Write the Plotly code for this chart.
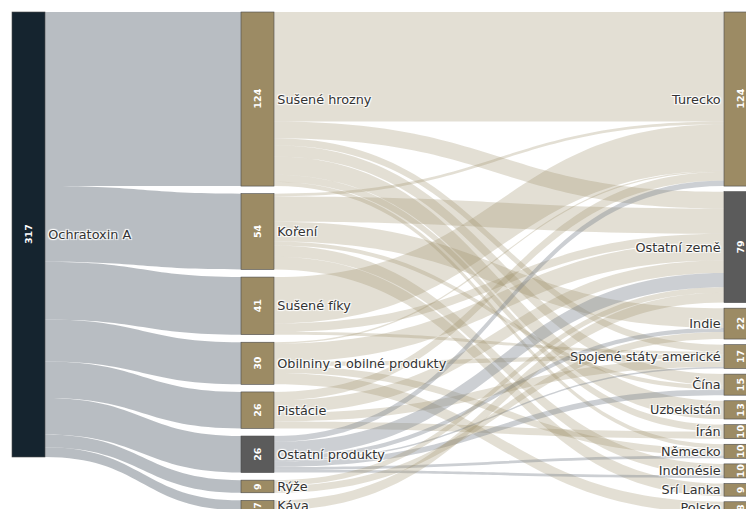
import plotly.graph_objects as go

# ---------------- data ----------------
source_label = "Ochratoxin A"
products = ["Sušené hrozny", "Koření", "Sušené fíky", "Obilniny a obilné produkty",
            "Pistácie", "Ostatní produkty", "Rýže", "Káva"]
countries = ["Turecko", "Ostatní země", "Indie", "Spojené státy americké", "Čína",
             "Uzbekistán", "Írán", "Německo", "Indonésie", "Srí Lanka", "Polsko"]

# flows product -> country (rows: products, cols: countries)
flows = [
    # Tur Ost Ind USA Čín Uzb Írá Něm Ido SLa Pol
    [78, 12, 0, 5, 8, 13, 5, 3, 0, 0, 0],   # Sušené hrozny 124
    [2, 18, 14, 0, 3, 0, 0, 0, 8, 9, 0],    # Koření 54
    [33, 6, 0, 2, 0, 0, 0, 0, 0, 0, 0],     # Sušené fíky 41
    [1, 13, 0, 3, 0, 0, 0, 5, 0, 0, 8],     # Obilniny 30
    [6, 9, 0, 6, 0, 0, 5, 0, 0, 0, 0],      # Pistácie 26
    [4, 10, 3, 1, 4, 0, 0, 2, 2, 0, 0],     # Ostatní produkty 26
    [0, 4, 5, 0, 0, 0, 0, 0, 0, 0, 0],      # Rýže 9
    [0, 7, 0, 0, 0, 0, 0, 0, 0, 0, 0],      # Káva 7
]
grey_products = ["Ostatní produkty"]
grey_countries = ["Ostatní země"]

# ---------------- derived ----------------
prod_tot = [sum(r) for r in flows]
ctry_tot = [sum(flows[i][j] for i in range(len(products))) for j in range(len(countries))]
total = sum(prod_tot)

labels = [source_label] + products + countries
n_p = len(products)

KHAKI = "#9c8b64"
GREY = "#5b5b5b"
NAVY = "#15242f"
node_colors = [NAVY] + [GREY if p in grey_products else KHAKI for p in products] + \
              [GREY if c in grey_countries else KHAKI for c in countries]

src, tgt, val, lcol = [], [], [], []
for i, p in enumerate(products):
    src.append(0); tgt.append(1 + i); val.append(prod_tot[i]); lcol.append("rgba(160,167,174,0.75)")
for i, p in enumerate(products):
    for j, c in enumerate(countries):
        v = flows[i][j]
        if v > 0:
            src.append(1 + i); tgt.append(1 + n_p + j); val.append(v)
            lcol.append("rgba(120,128,140,0.38)" if p in grey_products else "rgba(156,139,100,0.28)")

# ---------------- layout geometry ----------------
W_FIG, H_FIG = 760, 530
M_L, M_R, M_T, M_B = 12, 3, 12, 3
W = W_FIG - M_L - M_R
H = H_FIG - M_T - M_B
PAD = 7
THICK = 33
ky = (H - (len(countries) - 1) * PAD) / total
col_left = [0, 229, W - THICK]          # left edges of the three columns (px in domain)
col_x = [(c + THICK / 2) / W for c in col_left]
gap_mid = 7.6
gap_right = 5.6


def centers(values, gap):
    out, cum = [], 0.0
    for v in values:
        h = v * ky
        out.append((cum + h / 2) / H)
        cum += h + gap
    return out


ys = [total * ky / 2 / H] + centers(prod_tot, gap_mid) + centers(ctry_tot, gap_right)
xs = [col_x[0]] + [col_x[1]] * n_p + [col_x[2]] * len(countries)
node_vals = [total] + prod_tot + ctry_tot

fig = go.Figure(go.Sankey(
    arrangement="fixed",
    node=dict(label=labels, color=node_colors, x=xs, y=ys, pad=PAD, thickness=THICK,
              line=dict(color="#4a4a4a", width=0.6)),
    link=dict(source=src, target=tgt, value=val, color=lcol),
    textfont=dict(family="DejaVu Sans", size=12.8, color="#333333"),
))

for x, y, v in zip(xs, ys, node_vals):
    fig.add_annotation(x=x, y=1 - y, xref="paper", yref="paper", text=f"<b>{v}</b>",
                       textangle=-90, showarrow=False, xanchor="center", yanchor="middle",
                       font=dict(family="DejaVu Sans", size=9.5, color="white"))

fig.update_layout(width=W_FIG, height=H_FIG, margin=dict(l=M_L, r=M_R, t=M_T, b=M_B),
                  paper_bgcolor="white", plot_bgcolor="white")
fig.write_html("out.html")
